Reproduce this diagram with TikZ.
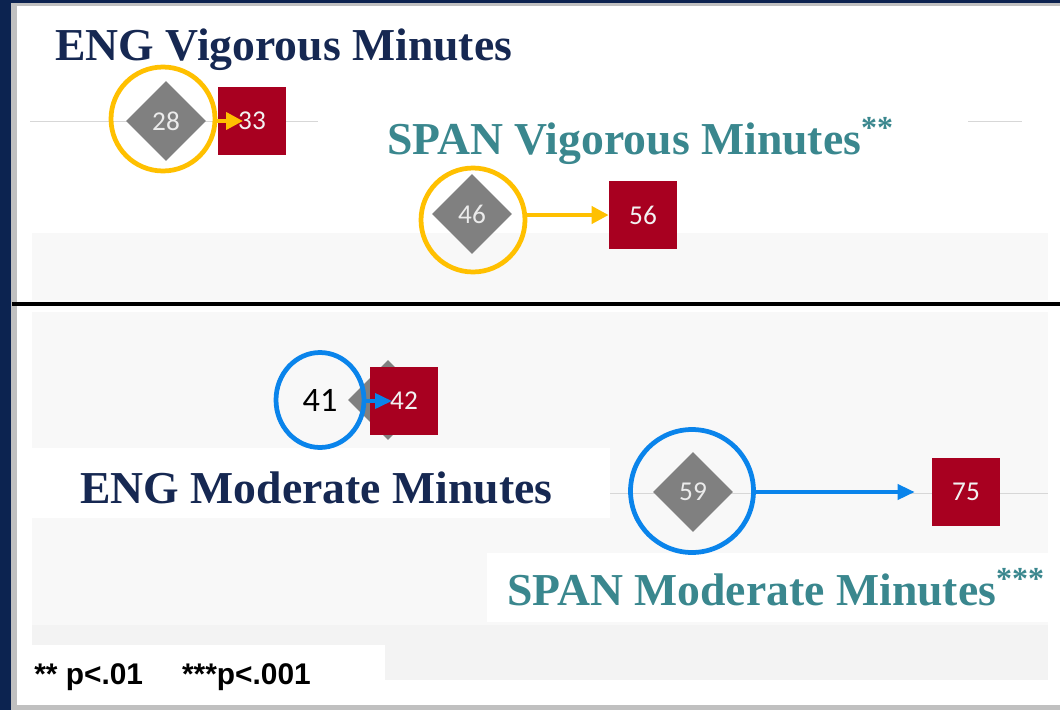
\documentclass[tikz,border=0pt]{standalone}
\usepackage{fontspec}
\setmainfont{Liberation Serif}
\newfontfamily\numfont{Carlito}
\newfontfamily\footfont{Liberation Sans}
\usetikzlibrary{shapes.geometric,arrows.meta}
\definecolor{navytitle}{RGB}{22,40,82}
\definecolor{tealtitle}{RGB}{58,135,142}
\definecolor{dred}{RGB}{168,0,32}
\definecolor{gold}{RGB}{255,192,0}
\definecolor{bblue}{RGB}{10,132,235}
\definecolor{dgray}{RGB}{128,128,128}
\definecolor{framenavy}{RGB}{12,35,80}
\definecolor{framegray}{RGB}{192,192,192}
\definecolor{faint}{RGB}{248,248,248}
\definecolor{faintb}{RGB}{243,243,243}
\definecolor{guide}{RGB}{215,215,215}
\tikzset{
  dia/.style={diamond, fill=dgray, minimum width=1.6cm, minimum height=1.6cm, inner sep=0pt, text=white!92!black, font=\numfont\fontsize{15.5}{15.5}\selectfont},
  sq/.style={rectangle, fill=dred, minimum width=1.36cm, minimum height=1.36cm, inner sep=0pt, text=white!95!black, font=\numfont\fontsize{15.5}{15.5}\selectfont},
  ring/.style={circle, line width=0.095cm, inner sep=0pt, fill=none},
  ttl/.style={anchor=base west, inner sep=0pt, font=\bfseries\fontsize{26}{26}\selectfont},
  yarrow/.style={draw=gold, line width=0.08cm, -{Triangle[length=0.34cm,width=0.34cm]}},
  barrow/.style={draw=bblue, line width=0.075cm, -{Triangle[length=0.34cm,width=0.3cm]}},
  guideline/.style={draw=guide, line width=0.02cm},
  panel/.style={fill=faint, draw=none},
  whitebox/.style={fill=white, draw=none}
}
\begin{document}
\begin{tikzpicture}[x=0.02cm, y=-0.02cm]
\useasboundingbox (0,0) rectangle (1060,710);
% frame
\fill[white] (0,0) rectangle (1060,710);
\fill[framegray] (11,3) rectangle (1060,710);
\fill[white] (17,6) rectangle (1060,705);
\fill[framenavy] (0,0) rectangle (11,710);
\fill[framenavy] (0,0) rectangle (1060,3);
% faint panels
\path[panel] (32,233) rectangle (1048,300);
\path[panel] (32,312) rectangle (1048,680);
\path[fill=faintb] (32,625) rectangle (1048,680);
\path[whitebox] (30,448) rectangle (610,518);
\path[whitebox] (487,553) rectangle (1048,622);
\path[whitebox] (30,645) rectangle (385,705);
% separator
\draw[black, line width=0.08cm] (12,304) -- (1060,304);
% guide lines
\draw[guideline] (30,121) -- (318,121);
\draw[guideline] (968,121) -- (1022,121);
\draw[guideline] (610,493) -- (1048,493);

% titles
\node[ttl, text=navytitle] (t1) at (55,60) {ENG Vigorous Minutes};
\node[ttl, text=tealtitle] (t2) at (387,154) {SPAN Vigorous Minutes\textsuperscript{**}};
\node[ttl, text=navytitle] (t3) at (80,503) {ENG Moderate Minutes};
\node[ttl, text=tealtitle] (t4) at (507,605) {SPAN Moderate Minutes\textsuperscript{***}};

% ENG vigorous
\node[dia] (d1) at (166,121) {28};
\node[sq] (s1) at (252,121) {33};
\node[ring, draw=gold, minimum size=2.08cm] (c1) at (163,119) {};
\coordinate (e1) at (243,121);
\draw[yarrow] (c1.east |- d1.center) -- (e1);

% SPAN vigorous
\node[dia] (d2) at (472,214) {46};
\node[sq] (s2) at (643,215) {56};
\node[ring, draw=gold, minimum size=2.08cm] (c2) at (473,220) {};
\draw[yarrow] (c2.east |- s2.center) -- (s2.west);

% ENG moderate
\node[dia] (d3) at (388,400) {};
\node[sq] (s3) at (404,401) {42};
\node[ellipse, draw=bblue, line width=0.095cm, minimum width=1.76cm, minimum height=1.9cm, inner sep=0pt, font=\numfont\fontsize{19.5}{19.5}\selectfont, text=black] (c3) at (320,400) {41};
\coordinate (e3) at (392,401);
\draw[barrow] (c3.east |- s3.center) -- (e3);

% SPAN moderate
\node[dia] (d4) at (693,492) {59};
\node[sq] (s4) at (966,492) {75};
\node[ring, draw=bblue, minimum size=2.46cm] (c4) at (692,491) {};
\draw[barrow, shorten >=0.34cm] (c4.east |- s4.center) -- (s4.west);

% footnote
\node[anchor=base west, inner sep=0pt, font=\footfont\bfseries\fontsize{17}{17}\selectfont] (fn) at (34,684) {** p<.01\hspace{0.78cm}***p<.001};
\end{tikzpicture}
\end{document}
